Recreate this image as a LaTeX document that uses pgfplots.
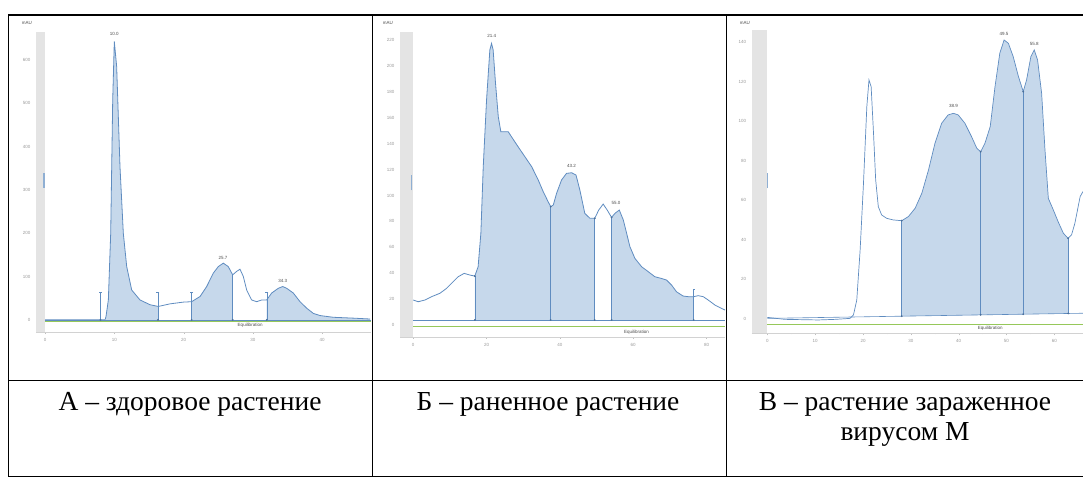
\documentclass[border=0pt]{standalone}
\usepackage{fontspec}
\setmainfont{Liberation Serif}
\newfontfamily\sansf{Liberation Sans}
\usepackage{pgfplots}
\pgfplotsset{compat=1.18}
\usepackage{pgfplotstable}
\definecolor{lc}{RGB}{95,140,192}
\definecolor{fc}{RGB}{198,216,235}
\definecolor{gc}{RGB}{150,200,90}
\definecolor{stripc}{RGB}{228,228,228}

\pgfplotstableread{
x y
0 0
8.66 0
8.8 7.7
9.14 46
9.48 200
9.77 508
10.0 643
10.34 585
10.82 354
11.3 200
11.79 123
12.51 69
13.71 46
15.15 35
16.35 31
18.04 37
19.96 41
21.16 42
22.37 54
23.33 77
24.29 108
25.0 123
25.73 131
26.45 123
27.08 104
27.66 112
28.14 117
28.62 100
29.1 69
29.82 46
30.55 42
31.27 46
31.99 46
32.71 62
33.67 73
34.3 77
34.87 73
35.83 62
36.8 42
37.76 27
38.72 15
39.68 10
41.6 6
44.5 4
46.9 2
}\dataA

\pgfplotstableread{
x y
0 19.3
1.36 18.0
3.18 19.3
5.0 21.9
7.27 24.5
9.09 28.3
10.9 33.5
12.27 37.3
13.9 39.9
15.45 38.6
16.8 37.8
17.7 45.0
18.45 70.8
19.1 122.3
20.0 173.7
20.9 212.4
21.36 217.5
21.8 212.4
22.45 186.6
23.2 160.9
23.9 149.3
25.0 149.3
25.9 149.3
26.8 145.4
28.6 137.7
30.45 130.0
32.3 122.3
34.1 112.0
35.45 103.0
36.8 95.2
37.5 91.4
38.2 92.7
39.1 101.7
40.45 112.0
41.8 117.1
43.2 117.6
44.4 115.8
45.45 104.2
46.8 86.2
48.2 82.4
49.5 82.4
50.6 88.8
51.8 93.4
52.9 88.8
54.1 83.1
55.0 86.2
56.2 88.8
57.3 81.1
58.2 70.8
59.1 60.5
60.45 51.5
62.3 45.0
64.1 41.2
65.9 37.3
67.7 36.0
69.1 34.7
70.45 30.9
71.8 25.7
73.6 22.4
75.0 21.9
76.5 21.9
77.7 22.7
79.1 21.9
80.45 19.3
82.3 15.4
85.0 11.6
}\dataB

\pgfplotstableread{
x y
0 0.8
3.7 -0.2
10.66 -0.5
14.15 -0.2
17.3 0.3
18.0 2.0
18.7 9.6
19.4 34.9
20.1 68.6
20.8 107.4
21.25 120.9
21.7 117.5
22.2 93.9
22.65 70.3
23.2 56.8
23.9 52.6
24.95 50.9
26.3 50.1
28.1 49.7
29.5 51.8
30.9 56.0
32.3 63.6
33.7 75.4
35.05 88.9
36.45 99.0
37.8 103.2
38.9 104.0
39.9 103.2
41.3 99.0
42.7 92.2
43.8 86.3
44.6 84.6
45.5 88.9
46.6 97.3
47.6 117.5
48.6 134.4
49.5 141.1
50.4 139.4
51.4 132.7
52.5 122.6
53.5 115.0
54.2 120.9
55.1 132.7
55.8 136.1
56.5 131.0
57.35 114.1
58.05 85.5
58.75 61.0
59.8 55.1
60.8 49.2
61.9 43.3
62.9 40.8
63.6 42.5
64.3 48.4
65.4 61.9
66.0 64.5
}\dataC

\pgfplotsset{
  chrom/.style={
    scale only axis, clip=false,
    axis x line=bottom, axis y line=left,
    axis line style={-},
    x axis line style={draw=gray!35},
    y axis line style={draw=none},
    tick style={gray!50},
    ytick style={draw=none},
    tick align=outside,
    major tick length=2pt, minor tick length=1pt,
    minor x tick num=1,
    ticklabel style={font=\sansf\fontsize{4.5}{5}\selectfont, text=gray!80},
    xticklabel style={yshift=-1pt},
    /pgf/number format/assume math mode=true,
  },
}
\tikzset{
  peak/.style={font=\sansf\fontsize{4.5}{5}\selectfont, text=black!70, inner sep=0pt},
  small/.style={font=\sansf\fontsize{4.5}{5}\selectfont, text=black!70, inner sep=0pt},
}

\begin{document}
\begin{tikzpicture}
\useasboundingbox (0pt,0pt) rectangle (1083pt,477pt);
% table frame
\draw[line width=1.3pt] (8pt,462pt) -- (1083pt,462pt);
\draw[line width=1pt] (8pt,97pt) -- (1083pt,97pt);
\draw[line width=1pt] (8pt,462pt) -- (8pt,0.5pt);
\draw[line width=1pt] (8pt,0.5pt) -- (1083pt,0.5pt);
\draw[line width=1pt] (372pt,462pt) -- (372pt,0pt);
\draw[line width=1pt] (726.5pt,462pt) -- (726.5pt,0pt);

% ---------- Panel A ----------
\begin{axis}[chrom, at={(36pt,145pt)}, anchor=south west,
  width=334.7pt, height=300.1pt,
  xmin=-1.3, xmax=47, ymin=-28, ymax=665,
  xtick={0,10,20,30,40}, ytick={0,100,200,300,400,500,600}]
\fill[stripc] (axis cs:-1.3,-28) rectangle (axis cs:0,665);
\draw[line width=1.3pt, color=lc!70] (axis cs:-0.15,305) -- (axis cs:-0.15,340);
\addplot[fill=fc, draw=none] coordinates {(8.8,0)(8.8,7.7)(9.14,46)(9.48,200)(9.77,508)(10.0,643)(10.34,585)(10.82,354)(11.3,200)(11.79,123)(12.51,69)(13.71,46)(15.15,35)(16.35,31)(16.35,0)} -- cycle;
\addplot[fill=fc, draw=none] coordinates {(21.16,0)(21.16,42)(22.37,54)(23.33,77)(24.29,108)(25.0,123)(25.73,131)(26.45,123)(27.08,104)(27.08,0)} -- cycle;
\addplot[fill=fc, draw=none] coordinates {(31.99,0)(31.99,46)(32.71,62)(33.67,73)(34.3,77)(34.87,73)(35.83,62)(36.8,42)(37.76,27)(38.72,15)(39.68,10)(41.6,6)(44.5,4)(46.9,2)(46.9,0)} -- cycle;
\addplot[gc, line width=1pt] coordinates {(0,-4.5)(47,-4.5)};
\addplot[lc, line width=0.5pt] coordinates {(0,0)(47,0)};
\addplot[lc, line width=0.8pt] table {\dataA};
\addplot[lc, line width=0.6pt] coordinates {(27.08,0)(27.08,104)};
\addplot[lc, line width=0.4pt] coordinates {(8.0,0)(8.0,65)};
\addplot[lc, line width=0.4pt] coordinates {(16.3,0)(16.3,65)};
\addplot[lc, line width=0.4pt] coordinates {(21.16,0)(21.16,65)};
\addplot[lc, line width=0.4pt] coordinates {(32.0,0)(32.0,65)};
\addplot[lc, only marks, mark=-, mark size=1.5pt] coordinates {(8.0,65)(16.3,65)(21.16,65)(32.0,65)};
\addplot[lc!80!black, only marks, mark=*, mark size=0.7pt] coordinates {(8.0,0)(16.3,0)(21.16,0)(27.08,0)(32.0,0)};
\node[peak] at (axis cs:10,660) {10.0};
\node[peak] at (axis cs:25.7,142) {25.7};
\node[peak] at (axis cs:34.3,90) {34.3};
\node[small] at (axis cs:29.6,-12) {Equilibration};
\node[small] at (axis cs:-2.6,686) {mAU};
\end{axis}

% ---------- Panel B ----------
\begin{axis}[chrom, at={(400pt,140.3pt)}, anchor=south west,
  width=324.9pt, height=305pt,
  xmin=-3.6, xmax=85, ymin=-9, ymax=226.5,
  xtick={0,20,40,60,80}, ytick={0,20,...,220}]
\fill[stripc] (axis cs:-3.6,-9) rectangle (axis cs:0,226.5);
\draw[line width=1.3pt, color=lc!70] (axis cs:-0.45,104) -- (axis cs:-0.45,116);
\addplot[fill=fc, draw=none] coordinates {(16.8,3.9)(16.8,37.8)(17.7,45.0)(18.45,70.8)(19.1,122.3)(20.0,173.7)(20.9,212.4)(21.36,217.5)(21.8,212.4)(22.45,186.6)(23.2,160.9)(23.9,149.3)(25.0,149.3)(25.9,149.3)(26.8,145.4)(28.6,137.7)(30.45,130.0)(32.3,122.3)(34.1,112.0)(35.45,103.0)(36.8,95.2)(37.5,91.4)(38.2,92.7)(39.1,101.7)(40.45,112.0)(41.8,117.1)(43.2,117.6)(44.4,115.8)(45.45,104.2)(46.8,86.2)(48.2,82.4)(49.5,82.4)(49.5,3.9)} -- cycle;
\addplot[fill=fc, draw=none] coordinates {(54.1,3.9)(54.1,83.1)(55.0,86.2)(56.2,88.8)(57.3,81.1)(58.2,70.8)(59.1,60.5)(60.45,51.5)(62.3,45.0)(64.1,41.2)(65.9,37.3)(67.7,36.0)(69.1,34.7)(70.45,30.9)(71.8,25.7)(73.6,22.4)(75.0,21.9)(76.5,21.9)(76.5,3.9)} -- cycle;
\addplot[gc, line width=1pt] coordinates {(0,-0.8)(85,-0.8)};
\addplot[lc, line width=0.6pt] coordinates {(0,3.9)(85,3.9)};
\addplot[lc, line width=0.8pt] table {\dataB};
\addplot[lc, line width=0.6pt] coordinates {(16.8,3.9)(16.8,37.8)};
\addplot[lc, line width=0.6pt] coordinates {(37.5,3.9)(37.5,91.4)};
\addplot[lc, line width=0.6pt] coordinates {(49.5,3.9)(49.5,82.4)};
\addplot[lc, line width=0.6pt] coordinates {(54.1,3.9)(54.1,83.1)};
\addplot[lc, line width=0.6pt] coordinates {(76.5,3.9)(76.5,28)};
\addplot[lc, only marks, mark=-, mark size=1.2pt] coordinates {(76.5,28)};
\addplot[lc!80!black, only marks, mark=*, mark size=0.7pt] coordinates {(16.8,3.9)(37.5,3.9)(49.5,3.9)(54.1,3.9)(76.5,3.9)(16.8,37.8)(37.5,91.4)(49.5,82.4)(54.1,83.1)};
\node[peak] at (axis cs:21.4,223) {21.4};
\node[peak] at (axis cs:43.2,123) {43.2};
\node[peak] at (axis cs:55.3,94) {55.0};
\node[small] at (axis cs:60.9,-5.5) {Equilibration};
\node[small] at (axis cs:-6.9,233) {mAU};
\end{axis}

% ---------- Panel C ----------
\begin{axis}[chrom, at={(751.7pt,143.7pt)}, anchor=south west,
  width=331.3pt, height=303.4pt,
  xmin=-3.27, xmax=66, ymin=-7.25, ymax=146.2,
  xtick={0,10,...,60}, ytick={0,20,...,140}]
\fill[stripc] (axis cs:-3.27,-7.25) rectangle (axis cs:0,146.2);
\draw[line width=1.3pt, color=lc!70] (axis cs:0,66) -- (axis cs:0,74);
\addplot[fill=fc, draw=none] coordinates {(28.1,1.4)(28.1,49.7)(29.5,51.8)(30.9,56.0)(32.3,63.6)(33.7,75.4)(35.05,88.9)(36.45,99.0)(37.8,103.2)(38.9,104.0)(39.9,103.2)(41.3,99.0)(42.7,92.2)(43.8,86.3)(44.6,84.6)(45.5,88.9)(46.6,97.3)(47.6,117.5)(48.6,134.4)(49.5,141.1)(50.4,139.4)(51.4,132.7)(52.5,122.6)(53.5,115.0)(54.2,120.9)(55.1,132.7)(55.8,136.1)(56.5,131.0)(57.35,114.1)(58.05,85.5)(58.75,61.0)(59.8,55.1)(60.8,49.2)(61.9,43.3)(62.9,40.8)(62.9,2.8)} -- cycle;
\addplot[gc, line width=1pt] coordinates {(0,-2.6)(66,-2.6)};
\addplot[lc, line width=0.6pt] coordinates {(0,0.3)(66,2.9)};
\addplot[lc, line width=0.7pt] table {\dataC};
\addplot[lc, line width=0.6pt] coordinates {(28.1,1.4)(28.1,49.7)};
\addplot[lc, line width=0.6pt] coordinates {(44.6,2.1)(44.6,84.6)};
\addplot[lc, line width=0.6pt] coordinates {(53.5,2.4)(53.5,115.0)};
\addplot[lc, line width=0.6pt] coordinates {(62.9,2.8)(62.9,40.8)};
\addplot[lc!80!black, only marks, mark=*, mark size=0.7pt] coordinates {(28.1,1.4)(44.6,2.1)(53.5,2.4)(62.9,2.8)(28.1,49.7)(44.6,84.6)(53.5,115.0)(62.9,40.8)};
\node[peak] at (axis cs:38.9,107.5) {38.9};
\node[peak] at (axis cs:49.5,144) {49.5};
\node[peak] at (axis cs:55.8,139) {55.8};
\node[small] at (axis cs:46.6,-4.9) {Equilibration};
\node[small] at (axis cs:-4.7,149.7) {mAU};
\end{axis}

% captions
\begin{scope}[every node/.style={anchor=base, inner sep=0pt, font=\fontsize{27.5}{30}\selectfont}]
\node at (190pt,67pt) {А – здоровое растение};
\node at (548pt,67pt) {Б – раненное растение};
\node at (905pt,67pt) {В – растение зараженное};
\node at (905pt,37pt) {вирусом М};
\end{scope}
\end{tikzpicture}
\end{document}
